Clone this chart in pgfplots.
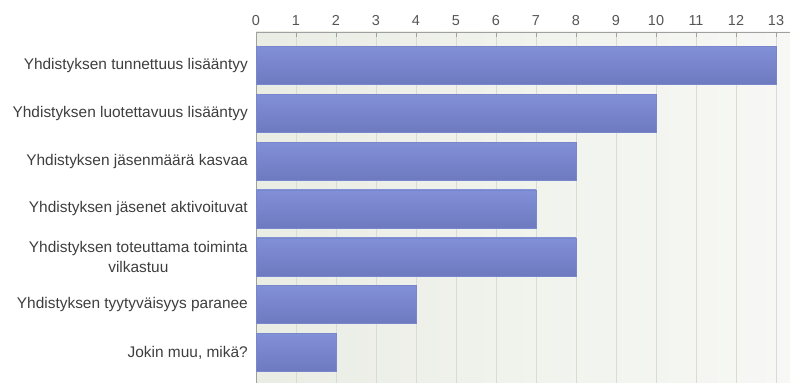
\documentclass[border=0pt]{standalone}
\usepackage{pgfplots}
\pgfplotsset{compat=1.18}
\usepackage{fontspec}
\setmainfont{Liberation Sans}
\definecolor{barTop}{HTML}{8290D8}
\definecolor{barBot}{HTML}{6D7ABF}
\definecolor{barEdge}{HTML}{7A86CC}
\definecolor{bgL}{HTML}{EAEDE4}
\definecolor{bgR}{HTML}{F7F8F5}
\definecolor{gridc}{HTML}{D9DBD5}
\definecolor{axc}{HTML}{A0A0A0}
\definecolor{tickc}{HTML}{555555}
\definecolor{labc}{HTML}{3E3E3E}
\tikzset{mybar/.style={draw=barEdge, line width=0.5pt, top color=barTop, bottom color=barBot}}
\begin{document}
\begin{tikzpicture}
\begin{axis}[
  at={(256bp,0bp)}, anchor=south west,
  scale only axis,
  width=534bp, height=351bp,
  xmin=0, xmax=13.35,
  ymin=-0.64, ymax=6.7,
  axis x line*=top,
  axis y line*=left,
  axis line style={axc, line width=0.8pt},
  x axis line style={-},
  y axis line style={-},
  xtick={0,1,...,13},
  ytick={0,1,...,6},
  yticklabels={{Jokin muu, mikä?},{Yhdistyksen tyytyväisyys paranee},{Yhdistyksen toteuttama toiminta\\vilkastuu},{Yhdistyksen jäsenet aktivoituvat},{Yhdistyksen jäsenmäärä kasvaa},{Yhdistyksen luotettavuus lisääntyy},{Yhdistyksen tunnettuus lisääntyy}},
  yticklabel style={align=center, font=\fontsize{15.5}{20}\selectfont, text=labc, inner sep=0pt, xshift=-3bp},
  xticklabel style={font=\fontsize{14.5}{16}\selectfont, text=tickc, inner sep=0pt, yshift=6bp},
  x tick style={axc, line width=0.6pt},
  xtick pos=right,
  major tick length=5bp,
  y tick style={draw=none},
  xmajorgrids,
  grid style={gridc, line width=0.6pt},
  axis background/.style={left color=bgL, right color=bgR},
  xbar, bar width=38bp, bar shift=0pt,
  /pgf/number format/assume math mode=true,
  clip=false,
]
\addplot[mybar] coordinates {(2,0)};
\addplot[mybar] coordinates {(4,1)};
\addplot[mybar] coordinates {(8,2)};
\addplot[mybar] coordinates {(7,3)};
\addplot[mybar] coordinates {(8,4)};
\addplot[mybar] coordinates {(10,5)};
\addplot[mybar] coordinates {(13,6)};
\end{axis}
\pgfresetboundingbox
\path[use as bounding box] (0,0) rectangle (790bp,383bp);
\end{tikzpicture}
\end{document}
